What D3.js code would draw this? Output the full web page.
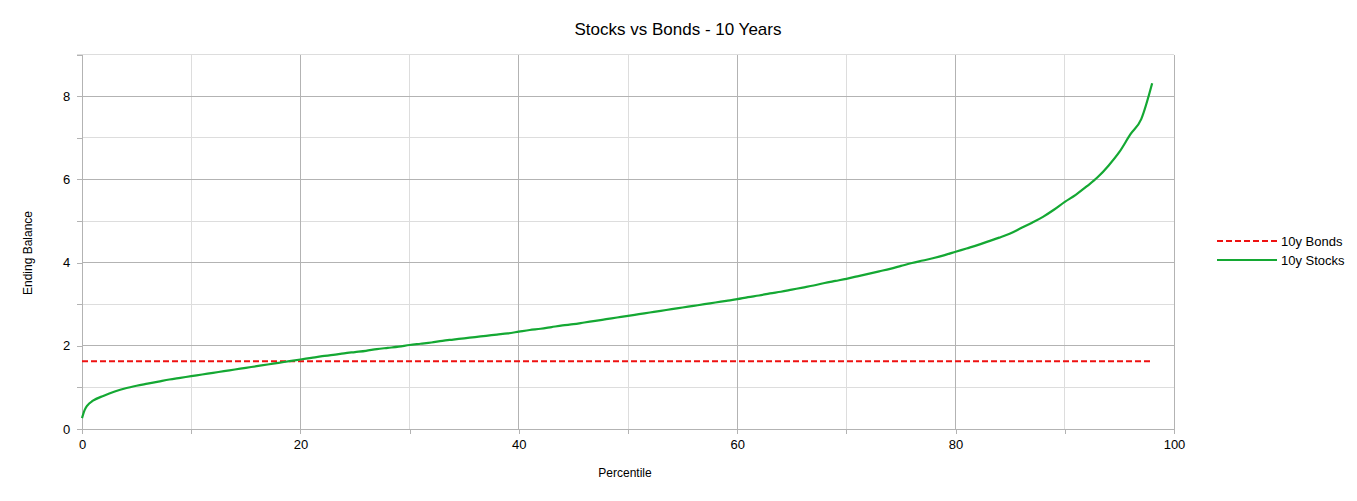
<!DOCTYPE html>
<html><head><meta charset="utf-8">
<script src="https://cdn.jsdelivr.net/npm/d3@7/dist/d3.min.js"></script>
<style>body{margin:0;background:#fff;}svg{display:block;font-family:"Liberation Sans",Arial,sans-serif;}</style>
</head><body><svg id="c" width="1357" height="501"></svg>
<script>
const percentiles = [0,0.25,0.5,1,2,3,4,5,6,7,8,9,10,11,12,13,14,15,16,17,18,19,20,21,22,23,24,25,26,27,28,29,30,31,32,33,34,35,36,37,38,39,40,41,42,43,44,45,46,47,48,49,50,51,52,53,54,55,56,57,58,59,60,61,62,63,64,65,66,67,68,69,70,71,72,73,74,75,76,77,78,79,80,81,82,83,84,85,86,87,88,89,90,91,92,93,94,95,96,97,98];
const stocks = [0.26,0.46,0.57,0.68,0.80,0.90,0.98,1.04,1.09,1.14,1.19,1.23,1.27,1.31,1.35,1.39,1.43,1.47,1.51,1.55,1.59,1.63,1.67,1.71,1.75,1.78,1.82,1.85,1.88,1.92,1.95,1.98,2.02,2.05,2.08,2.12,2.15,2.18,2.21,2.24,2.27,2.30,2.34,2.38,2.41,2.45,2.49,2.52,2.56,2.60,2.64,2.68,2.72,2.76,2.80,2.84,2.88,2.92,2.96,3.00,3.04,3.08,3.12,3.17,3.21,3.26,3.30,3.35,3.40,3.45,3.51,3.56,3.61,3.67,3.73,3.79,3.85,3.92,3.99,4.05,4.11,4.18,4.26,4.34,4.42,4.51,4.60,4.70,4.83,4.96,5.10,5.27,5.46,5.63,5.83,6.05,6.33,6.66,7.08,7.45,8.31];
const bondsValue = 1.63;
const bondsRange = [0, 98];
const xTicks = [0,20,40,60,80,100];
const xMinor = [10,30,50,70,90];
const yTicks = [0,2,4,6,8];
const yMinor = [1,3,5,7,9];
const seriesNames = ["10y Bonds","10y Stocks"];

const svg = d3.select("#c");
const L=82, R=1174, T=54.6, B=429;
const x = d3.scaleLinear().domain([0,100]).range([L,R]);
const y = d3.scaleLinear().domain([0,9]).range([B,T]);

// minor grid
svg.append("g").selectAll("line").data(xMinor).join("line")
  .attr("x1",d=>x(d)).attr("x2",d=>x(d)).attr("y1",T).attr("y2",B)
  .attr("stroke","#dddddd").attr("stroke-width",1).attr("shape-rendering","crispEdges");
svg.append("g").selectAll("line").data(yMinor).join("line")
  .attr("x1",L).attr("x2",R).attr("y1",d=>y(d)).attr("y2",d=>y(d))
  .attr("stroke","#dddddd").attr("stroke-width",1).attr("shape-rendering","crispEdges");
// major grid
svg.append("g").selectAll("line").data(xTicks.slice(1)).join("line")
  .attr("x1",d=>x(d)).attr("x2",d=>x(d)).attr("y1",T).attr("y2",B)
  .attr("stroke","#b3b3b3").attr("stroke-width",1).attr("shape-rendering","crispEdges");
svg.append("g").selectAll("line").data(yTicks.slice(1)).join("line")
  .attr("x1",L).attr("x2",R).attr("y1",d=>y(d)).attr("y2",d=>y(d))
  .attr("stroke","#b3b3b3").attr("stroke-width",1).attr("shape-rendering","crispEdges");

// axes
const xAxis = d3.axisBottom(x).tickValues(xTicks.concat(xMinor)).tickSize(5).tickFormat(d=>xTicks.includes(d)?d:"");
const gx = svg.append("g").attr("transform",`translate(0,${B})`).call(xAxis);
const yAxis = d3.axisLeft(y).tickValues(yTicks.concat(yMinor)).tickSize(5).tickFormat(d=>yTicks.includes(d)?d:"");
const gy = svg.append("g").attr("transform",`translate(${L},0)`).call(yAxis);
[gx,gy].forEach(g=>{
  g.select(".domain").attr("stroke","#b3b3b3").attr("shape-rendering","crispEdges");
  g.selectAll(".tick line").attr("stroke","#b3b3b3").attr("shape-rendering","crispEdges");
  g.selectAll(".tick text").attr("fill","#000").style("font-size","13px").style("font-family","'Liberation Sans',Arial,sans-serif");
});
gx.selectAll(".tick text").attr("dy","0.9em");
gy.selectAll(".tick text").attr("dx","-0.3em");
svg.append("line").attr("x1",R).attr("x2",R).attr("y1",T).attr("y2",B).attr("stroke","#b3b3b3").attr("shape-rendering","crispEdges");
svg.append("line").attr("x1",L-5).attr("x2",R).attr("y1",T).attr("y2",T).attr("stroke","#dddddd").attr("shape-rendering","crispEdges");

// bonds
svg.append("line").attr("x1",x(bondsRange[0])).attr("x2",x(bondsRange[1]))
  .attr("y1",y(bondsValue)).attr("y2",y(bondsValue))
  .attr("stroke","#ee1111").attr("stroke-width",2).attr("stroke-dasharray","6,3");
// stocks
const line = d3.line().x((d,i)=>x(percentiles[i])).y(d=>y(d)).curve(d3.curveMonotoneX);
svg.append("path").datum(stocks).attr("d",line).attr("fill","none")
  .attr("stroke","#14a833").attr("stroke-width",2.2);

// title & labels
svg.append("text").attr("x",678).attr("y",35).attr("text-anchor","middle")
  .style("font-size","17px").attr("fill","#000").text("Stocks vs Bonds - 10 Years");
svg.append("text").attr("x",625).attr("y",477).attr("text-anchor","middle")
  .style("font-size","12px").attr("fill","#000").text("Percentile");
svg.append("text").attr("transform","translate(32,253) rotate(-90)").attr("text-anchor","middle")
  .style("font-size","12px").attr("fill","#000").text("Ending Balance");

// legend
const lg = svg.append("g");
const leg = [{n:seriesNames[0],c:"#ee1111",dash:"6,3",y:241},{n:seriesNames[1],c:"#14a833",dash:null,y:260}];
leg.forEach(d=>{
  lg.append("line").attr("x1",1217).attr("x2",1277).attr("y1",d.y).attr("y2",d.y)
    .attr("stroke",d.c).attr("stroke-width",2).attr("stroke-dasharray",d.dash);
  lg.append("text").attr("x",1281).attr("y",d.y+4.5).style("font-size","13px").attr("fill","#000").text(d.n);
});
</script></body></html>
